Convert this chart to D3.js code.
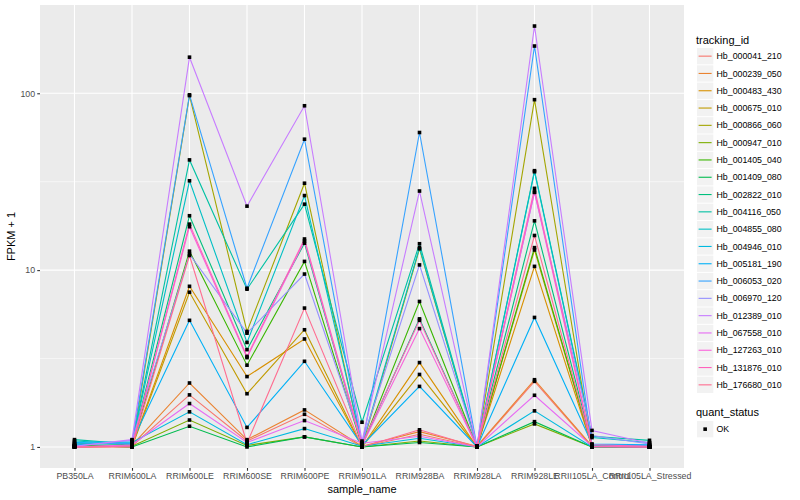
<!DOCTYPE html>
<html>
<head>
<meta charset="utf-8">
<script src="https://cdn.jsdelivr.net/npm/d3@7"></script>
<style>
  body { margin: 0; background: #fff; }
  text { font-family: "Liberation Sans", Arial, sans-serif; }
</style>
</head>
<body>
<svg id="chart" width="800" height="500"></svg>
<script>
// samples on the x axis
const samples = ["PB350LA", "RRIM600LA", "RRIM600LE", "RRIM600SE", "RRIM600PE", "RRIM901LA",
  "RRIM928BA", "RRIM928LA", "RRIM928LE", "RRII105LA_Control", "RRII105LA_Stressed"];

const trackingIds = ["Hb_000041_210", "Hb_000239_050", "Hb_000483_430", "Hb_000675_010", "Hb_000866_060",
  "Hb_000947_010", "Hb_001405_040", "Hb_001409_080", "Hb_002822_010", "Hb_004116_050",
  "Hb_004855_080", "Hb_004946_010", "Hb_005181_190", "Hb_006053_020", "Hb_006970_120",
  "Hb_012389_010", "Hb_067558_010", "Hb_127263_010", "Hb_131876_010", "Hb_176680_010"];

// FPKM + 1, one row per tracking_id, same order as samples
const fpkm = [
  [1.00, 1.01, 1.97, 1.08, 1.53, 1.00, 1.18, 1.00, 2.35, 1.00, 1.00], // 000041
  [1.01, 1.02, 2.30, 1.10, 1.62, 1.01, 1.22, 1.01, 2.40, 1.01, 1.00], // 000239
  [1.00, 1.01, 8.10, 2.50, 4.08, 1.00, 3.00, 1.00, 10.5, 1.00, 1.00], // 000483
  [1.01, 1.00, 7.50, 2.00, 4.60, 1.00, 2.57, 1.00, 13.0, 1.00, 1.01], // 000675
  [1.02, 1.00, 97.0, 4.50, 31.0, 1.00, 13.2, 1.00, 92.0, 1.00, 1.00], // 000866
  [1.00, 1.01, 1.42, 1.02, 1.14, 1.00, 1.08, 1.00, 1.35, 1.00, 1.00], // 000947
  [1.01, 1.02, 12.8, 2.90, 11.2, 1.01, 6.65, 1.00, 13.4, 1.01, 1.00], // 001405
  [1.02, 1.00, 1.31, 1.00, 1.14, 1.00, 1.06, 1.00, 1.39, 1.00, 1.00], // 001409
  [1.05, 1.03, 20.3, 3.55, 14.2, 1.02, 5.30, 1.01, 19.0, 1.02, 1.01], // 002822
  [1.10, 1.04, 42.0, 7.80, 23.6, 1.38, 14.1, 1.01, 36.5, 1.15, 1.09], // 004116
  [1.08, 1.04, 32.0, 3.90, 26.4, 1.03, 13.4, 1.00, 36.0, 1.13, 1.06], // 004855
  [1.03, 1.06, 1.58, 1.03, 1.27, 1.01, 1.12, 1.00, 1.60, 1.00, 1.00], // 004946
  [1.06, 1.07, 5.20, 1.29, 3.05, 1.02, 2.20, 1.00, 5.40, 1.04, 1.03], // 005181
  [1.04, 1.05, 98.0, 7.90, 55.0, 1.01, 60.0, 1.00, 185, 1.03, 1.02], // 006053
  [1.01, 1.09, 12.3, 4.40, 9.50, 1.06, 10.7, 1.01, 27.5, 1.16, 1.04], // 006970
  [1.01, 1.10, 160, 23.0, 85.0, 1.08, 28.0, 1.00, 240, 1.24, 1.05], // 012389
  [1.00, 1.03, 1.76, 1.06, 1.41, 1.05, 1.15, 1.00, 1.96, 1.01, 1.00], // 067558
  [1.00, 1.02, 17.6, 3.20, 14.6, 1.02, 4.67, 1.00, 27.7, 1.01, 1.00], // 127263
  [1.00, 1.01, 18.2, 3.25, 15.0, 1.04, 5.20, 1.01, 29.0, 1.03, 1.01], // 131876
  [1.00, 1.00, 12.1, 1.05, 6.10, 1.00, 1.25, 1.00, 15.7, 1.00, 1.00]  // 176680
];

const yTicks = [1, 10, 100];
const yMinor = [Math.sqrt(10), Math.sqrt(1000)];

const hue = ["#F8766D", "#EA8331", "#D89000", "#C09B00", "#A3A500", "#7CAE00", "#39B600", "#00BB4E",
  "#00BF7D", "#00C1A3", "#00BFC4", "#00BAE0", "#00B0F6", "#35A2FF", "#9590FF", "#C77CFF",
  "#E76BF3", "#FA62DB", "#FF62BC", "#FF6C90"];

const svg = d3.select("#chart");
const panel = { left: 40, right: 684, top: 5, bottom: 468 };

const x = d3.scalePoint().domain(samples).range([panel.left, panel.right]).padding(0.6);

// log10 scale with ggplot style 5% expansion
const allVals = fpkm.flat();
const lo = Math.log10(d3.min(allVals)), hi = Math.log10(d3.max(allVals));
const pad = (hi - lo) * 0.05;
const y = d3.scaleLog().domain([Math.pow(10, lo - pad), Math.pow(10, hi + pad)])
  .range([panel.bottom, panel.top]);

svg.append("rect").attr("x", panel.left).attr("y", panel.top)
  .attr("width", panel.right - panel.left).attr("height", panel.bottom - panel.top)
  .attr("fill", "#EBEBEB");

const grid = svg.append("g");
grid.selectAll(".minor").data(yMinor).enter().append("line")
  .attr("x1", panel.left).attr("x2", panel.right)
  .attr("y1", d => y(d)).attr("y2", d => y(d))
  .attr("stroke", "#fff").attr("stroke-width", 0.55);
grid.selectAll(".majy").data(yTicks).enter().append("line")
  .attr("x1", panel.left).attr("x2", panel.right)
  .attr("y1", d => y(d)).attr("y2", d => y(d))
  .attr("stroke", "#fff").attr("stroke-width", 1.1);
grid.selectAll(".majx").data(samples).enter().append("line")
  .attr("x1", d => x(d)).attr("x2", d => x(d))
  .attr("y1", panel.top).attr("y2", panel.bottom)
  .attr("stroke", "#fff").attr("stroke-width", 1.1);

// lines per tracking_id
const line = d3.line().x((d, i) => x(samples[i])).y(d => y(d));
svg.append("g").selectAll("path").data(fpkm).enter().append("path")
  .attr("d", line)
  .attr("fill", "none")
  .attr("stroke", (d, i) => hue[i])
  .attr("stroke-width", 1.1);

// points
const pts = [];
fpkm.forEach(row => row.forEach((v, i) => pts.push({ s: samples[i], v: v })));
svg.append("g").selectAll("rect").data(pts).enter().append("rect")
  .attr("x", d => x(d.s) - 1.8).attr("y", d => y(d.v) - 1.8)
  .attr("width", 3.6).attr("height", 3.6)
  .attr("fill", "#000");

// axes
const xAxis = svg.append("g").attr("transform", `translate(0,${panel.bottom})`)
  .call(d3.axisBottom(x).tickSize(2.75).tickPadding(2.2));
const yAxis = svg.append("g").attr("transform", `translate(${panel.left},0)`)
  .call(d3.axisLeft(y).tickValues(yTicks).tickFormat(d3.format("d")).tickSize(2.75).tickPadding(2.2));
[xAxis, yAxis].forEach(a => {
  a.select(".domain").remove();
  a.selectAll(".tick line").attr("stroke", "#333333").attr("stroke-width", 1.1);
  a.selectAll(".tick text").attr("fill", "#4D4D4D").attr("font-size", 8.8)
    .attr("font-family", "Liberation Sans, Arial, sans-serif");
});

svg.append("text").attr("x", (panel.left + panel.right) / 2).attr("y", 493)
  .attr("text-anchor", "middle").attr("font-size", 11).attr("fill", "#000").text("sample_name");
svg.append("text").attr("transform", `translate(15,${(panel.top + panel.bottom) / 2}) rotate(-90)`)
  .attr("text-anchor", "middle").attr("font-size", 11).attr("fill", "#000").text("FPKM + 1");

// legend: tracking_id
const leg = svg.append("g").attr("transform", "translate(696,0)");
leg.append("text").attr("x", 0).attr("y", 44).attr("font-size", 11).text("tracking_id");
const keyH = 17.3, key0 = 48;
const keys = leg.selectAll(".key").data(trackingIds).enter().append("g")
  .attr("transform", (d, i) => `translate(0,${key0 + i * keyH})`);
keys.append("rect").attr("x", 1).attr("y", 0).attr("width", 16.3).attr("height", 16.3).attr("fill", "#F2F2F2");
keys.append("line").attr("x1", 2.6).attr("x2", 15.6).attr("y1", 8.15).attr("y2", 8.15)
  .attr("stroke", (d, i) => hue[i]).attr("stroke-width", 1.1);
keys.append("text").attr("x", 20.5).attr("y", 11.3).attr("font-size", 8.8).text(d => d);

// legend: quant_status
leg.append("text").attr("x", 0).attr("y", 416).attr("font-size", 11).text("quant_status");
leg.append("rect").attr("x", 1).attr("y", 421).attr("width", 16.3).attr("height", 16.3).attr("fill", "#F2F2F2");
leg.append("rect").attr("x", 7.35).attr("y", 427.35).attr("width", 3.6).attr("height", 3.6).attr("fill", "#000");
leg.append("text").attr("x", 20.5).attr("y", 432.3).attr("font-size", 8.8).text("OK");
</script>
</body>
</html>
